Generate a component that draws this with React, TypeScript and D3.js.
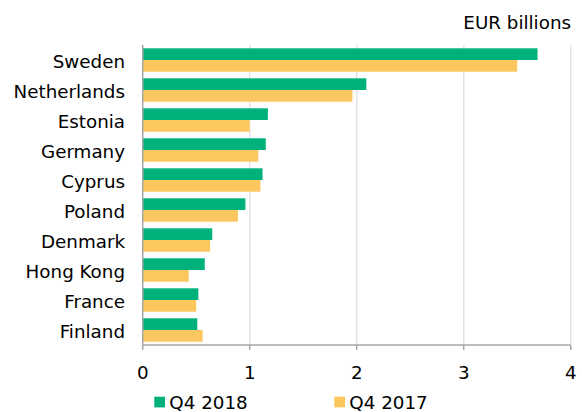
import React from "react";
import * as d3 from "d3";

const categories = ["Sweden", "Netherlands", "Estonia", "Germany", "Cyprus", "Poland", "Denmark", "Hong Kong", "France", "Finland"];
const q42018 = [3.69, 2.09, 1.17, 1.15, 1.12, 0.96, 0.65, 0.58, 0.52, 0.51];
const q42017 = [3.50, 1.96, 1.00, 1.08, 1.10, 0.89, 0.63, 0.43, 0.50, 0.56];
const xTicks = [0, 1, 2, 3, 4];
const seriesNames = ["Q4 2018", "Q4 2017"];
const unitLabel = "EUR billions";

const W = 582;
const H = 412;
const left = 142.7;
const right = 570.7;
const top = 45;
const bottom = 345;
const colors = ["#00b17b", "#fcc75e"];
const font = "Verdana, 'DejaVu Sans', sans-serif";
const fs = 18.3;

export default function App() {
  const x = d3.scaleLinear().domain([0, 4]).range([left, right]);
  const y = d3.scaleBand<string>().domain(categories).range([top, bottom]).paddingInner(0.22).paddingOuter(0.11);
  const sub = d3.scaleBand<string>().domain(seriesNames).range([0, y.bandwidth()]);
  const series = [q42018, q42017];
  return (
    <svg width={W} height={H} style={{ position: "absolute", left: 0, top: 0 }} fontFamily={font}>
      <rect width={W} height={H} fill="#fff" />
      {xTicks.slice(1).map((t) => (
        <line key={"g" + t} x1={x(t)} x2={x(t)} y1={top} y2={bottom} stroke="#e3e3e3" strokeWidth={1.5} />
      ))}
      {categories.map((c, i) =>
        series.map((s, j) => (
          <rect
            key={c + j}
            x={x(0)}
            y={(y(c) as number) + (sub(seriesNames[j]) as number)}
            width={x(s[i]) - x(0)}
            height={sub.bandwidth()}
            fill={colors[j]}
          />
        ))
      )}
      <line x1={x(0)} x2={x(0)} y1={top} y2={bottom} stroke="#a6a6a6" strokeWidth={1.5} />
      <line x1={x(0)} x2={right} y1={bottom} y2={bottom} stroke="#a6a6a6" strokeWidth={1.5} />
      {xTicks.map((t) => (
        <g key={"t" + t}>
          <line x1={x(t)} x2={x(t)} y1={bottom} y2={bottom + 5} stroke="#a6a6a6" strokeWidth={1.5} />
          <text x={x(t)} y={372} textAnchor="middle" dominantBaseline="central" fontSize={fs} fill="#000">
            {t}
          </text>
        </g>
      ))}
      {categories.map((c) => (
        <text key={"l" + c} x={125} y={(y(c) as number) + y.bandwidth() / 2 + 1} textAnchor="end" dominantBaseline="central" fontSize={fs} fill="#000">
          {c}
        </text>
      ))}
      <text x={571} y={22} textAnchor="end" dominantBaseline="central" fontSize={fs} fill="#000">
        {unitLabel}
      </text>
      {seriesNames.map((n, j) => (
        <g key={"lg" + n} transform={`translate(${[154.3, 334.3][j]},0)`}>
          <rect x={0} y={396.7} width={10.7} height={10.7} fill={colors[j]} />
          <text x={15} y={402} dominantBaseline="central" fontSize={fs} fill="#000">
            {n}
          </text>
        </g>
      ))}
    </svg>
  );
}
